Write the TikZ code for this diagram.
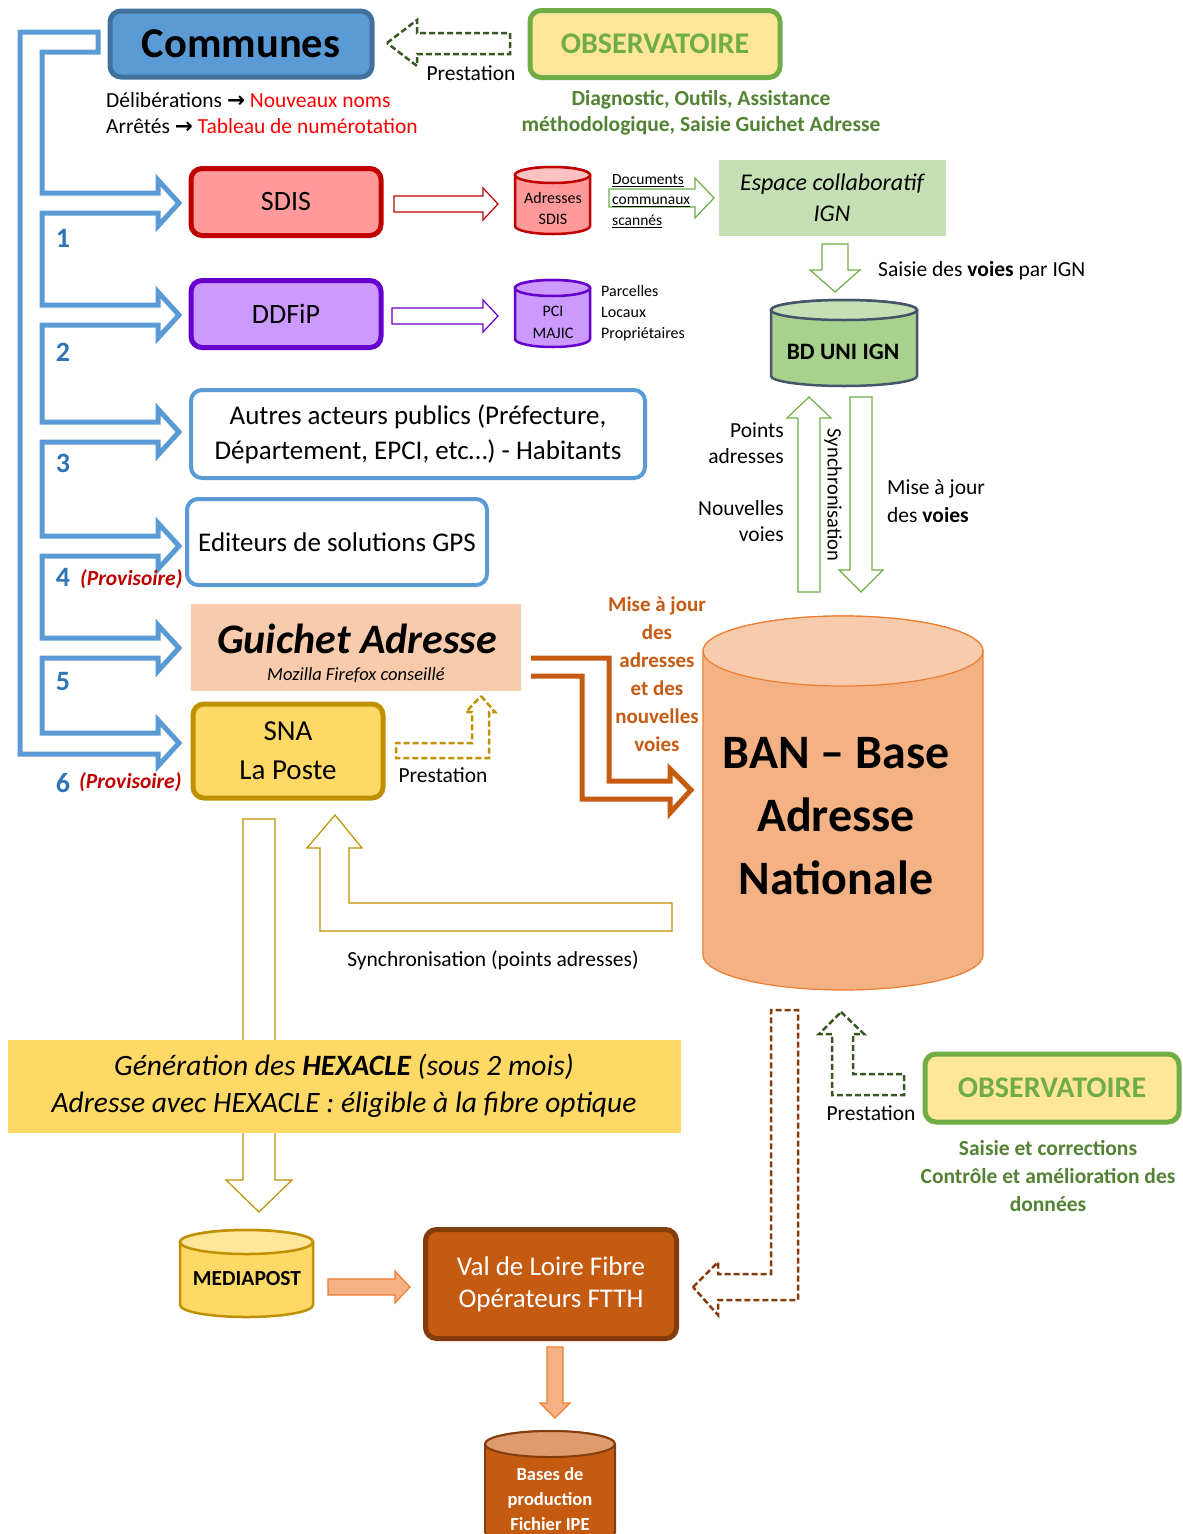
\documentclass[tikz,border=0pt]{standalone}
\usepackage{fontspec}
\setmainfont{Carlito}
\newfontfamily\arrowfont{DejaVu Sans}
\usetikzlibrary{calc}

\definecolor{communesfill}{HTML}{5B9BD5}
\definecolor{communesline}{HTML}{41719C}
\definecolor{forkblue}{HTML}{5B9BD5}
\definecolor{numblue}{HTML}{2E75B6}
\definecolor{provred}{HTML}{C00000}
\definecolor{obsfill}{HTML}{FFE699}
\definecolor{obsgreen}{HTML}{70AD47}
\definecolor{textgreen}{HTML}{548235}
\definecolor{prestgreen}{HTML}{385723}
\definecolor{sdisfill}{HTML}{FF999A}
\definecolor{sdisred}{HTML}{C00000}
\definecolor{ddfipfill}{HTML}{CC99FF}
\definecolor{ddfipline}{HTML}{6600CC}
\definecolor{ignfill}{HTML}{C5E0B4}
\definecolor{bdfill}{HTML}{A9D18E}
\definecolor{bdline}{HTML}{44546A}
\definecolor{guichetfill}{HTML}{F8CBAD}
\definecolor{snafill}{HTML}{FFD966}
\definecolor{snaline}{HTML}{BF9000}
\definecolor{fibre}{HTML}{C55A11}
\definecolor{fibreline}{HTML}{843C0C}
\definecolor{banfill}{HTML}{F4B183}
\definecolor{bantop}{HTML}{F8CBAD}
\definecolor{banline}{HTML}{ED7D31}
\definecolor{basestop}{HTML}{DE9B6E}

\newcommand{\fsz}[2]{\fontsize{#1}{#2}\selectfont}
\newcommand{\toarrow}{{\arrowfont\bfseries →}}
% style, tail x, tip x, y, shaft half, head half, head length
\newcommand{\blockarrowh}[7]{%
  \draw[#1] (#2,{#4-#5}) -- ({#3-(#7)},{#4-#5}) -- ({#3-(#7)},{#4-#6}) -- (#3,#4)
    -- ({#3-(#7)},{#4+#6}) -- ({#3-(#7)},{#4+#5}) -- (#2,{#4+#5}) -- cycle;}
% style, x, tail y, tip y, shaft half, head half, head length
\newcommand{\blockarrowv}[7]{%
  \draw[#1] ({#2-#5},#3) -- ({#2-#5},{#4-(#7)}) -- ({#2-#6},{#4-(#7)}) -- (#2,#4)
    -- ({#2+#6},{#4-(#7)}) -- ({#2+#5},{#4-(#7)}) -- ({#2+#5},#3) -- cycle;}
% line style, body fill, top fill, x1, y1, x2, y2, ry
\newcommand{\dbcyl}[8]{%
  \path[#1,fill=#2] (#4,{#7-#8}) -- (#4,{#5+#8})
    arc[start angle=180,end angle=360,x radius={(#6-#4)/2},y radius=#8]
    -- (#6,{#7-#8})
    arc[start angle=0,end angle=180,x radius={(#6-#4)/2},y radius=#8] -- cycle;
  \path[#1,fill=#3] ({(#4+#6)/2},{#5+#8}) ellipse[x radius={(#6-#4)/2},y radius=#8];}

\begin{document}
\begin{tikzpicture}[x=1pt,y=-1pt,
    every node/.style={inner sep=0pt,align=center},
    rbox/.style={rounded corners=11,line width=5},
    obsbox/.style={rbox,draw=obsgreen,fill=obsfill,minimum width=250,minimum height=67,
      text=obsgreen,font=\fsz{30}{34}\bfseries},
    actorbox/.style={rbox,draw=forkblue,line width=4,fill=white,font=\fsz{27}{35}},
    lbl/.style={font=\fsz{21.5}{26}},
    num/.style={text=numblue,font=\fsz{28}{30}\bfseries},
    prov/.style={text=provred,font=\fsz{21.5}{24}\bfseries\itshape,anchor=west},
    prest/.style={draw=prestgreen,line width=2.5,dash pattern=on 6pt off 3pt},
    thinarrow/.style={line width=1.2,fill=white}]

  \path[use as bounding box,fill=white] (0,0) rectangle (1183,1534);

  % fork from Communes
  \draw[forkblue,line width=5] (98,52) -- (42,52)
    \foreach \c in {203,315,432,546,648} {
      -- (42,{\c-10}) -- (158,{\c-10}) -- (158,{\c-23}) -- (179,\c)
      -- (158,{\c+23}) -- (158,{\c+10}) -- (42,{\c+10}) }
    -- (42,733) -- (158,733) -- (158,720) -- (179,743) -- (158,766) -- (158,754)
    -- (20,754) -- (20,32) -- (98,32) -- cycle;

  \node[rbox,draw=communesline,fill=communesfill,minimum width=262,minimum height=66,
    font=\fsz{42.5}{46}\bfseries] (communes) at (241,44) {Communes};
  \node[obsbox] (obstop) at (655,44) {OBSERVATOIRE};
  \draw[prest] (387,43) -- (417,20) -- (417,33) -- (510,33) -- (510,54) -- (417,54)
    -- (417,66) -- cycle;
  \node[lbl] (presttop) at (471,73) {Prestation};

  \node[lbl,anchor=west] (delib) at (106,100)
    {Délibérations \toarrow{} \textcolor{red}{Nouveaux noms}};
  \node[lbl,anchor=west] (arretes) at (106,126)
    {Arrêtés \toarrow{} \textcolor{red}{Tableau de numérotation}};
  \node[lbl,text=textgreen,font=\fsz{21.5}{26}\bfseries] (diag) at (701,113)
    {Diagnostic, Outils, Assistance\\méthodologique, Saisie Guichet Adresse};

  \node[rbox,draw=sdisred,fill=sdisfill,minimum width=190,minimum height=67,
    font=\fsz{28}{30}] (sdis) at (286,202) {SDIS};
  \node[rbox,draw=ddfipline,fill=ddfipfill,minimum width=190,minimum height=67,
    font=\fsz{28}{30}] (ddfip) at (286,314) {DDFiP};
  \node[actorbox,minimum width=454,minimum height=88] (autres) at (418,434)
    {Autres acteurs publics (Préfecture,\\Département, EPCI, etc…) - Habitants};
  \node[actorbox,minimum width=300,minimum height=86] (gps) at (337,542)
    {Editeurs de solutions GPS};
  \node[fill=guichetfill,minimum width=330,minimum height=87] (guichet) at (356,647) {};
  \node[font=\fsz{42}{44}\bfseries\itshape] (guichettitle) at (357,639) {Guichet Adresse};
  \node[font=\fsz{18.5}{20}\itshape] (guichetsub) at (356,675) {Mozilla Firefox conseillé};
  \node[rbox,draw=snaline,fill=snafill,minimum width=190,minimum height=94,
    font=\fsz{29}{39}] (sna) at (288,751) {SNA\\La Poste};

  \node[num] (n1) at (63,238) {1};
  \node[num] (n2) at (63,352) {2};
  \node[num] (n3) at (63,463) {3};
  \node[num] (n4) at (63,577) {4};
  \node[prov] (p4) at (80,579) {(Provisoire)};
  \node[num] (n5) at (63,682) {5};
  \node[num] (n6) at (63,783) {6};
  \node[prov] (p6) at (79,782) {(Provisoire)};

  \blockarrowh{sdisred,thinarrow}{394}{498}{204}{8}{16}{15}
  \blockarrowh{ddfipline,thinarrow}{392}{498}{316}{8}{16}{15}
  \dbcyl{draw=sdisred,line width=2.5}{sdisfill}{sdisfill!60}{515}{167}{590}{234}{8}
  \node[font=\fsz{16}{21}] (adrsdis) at (553,208) {Adresses\\SDIS};
  \dbcyl{draw=ddfipline,line width=2.5}{ddfipfill}{ddfipfill}{515}{280}{590}{347}{8}
  \node[font=\fsz{16}{22}] (pci) at (553,322) {PCI\\MAJIC};
  \node[font=\fsz{16}{21},anchor=west,align=left] (parcelles) at (601,313)
    {Parcelles\\Locaux\\Propriétaires};

  \blockarrowh{obsgreen,thinarrow}{609}{714}{198}{9}{20}{19}
  \node[font=\fsz{15.5}{20.5},anchor=west,align=left] (docs) at (612,201)
    {\underline{Documents}\\\underline{communaux}\\\underline{scannés}};
  \node[fill=ignfill,minimum width=227,minimum height=76,font=\fsz{24}{31}\itshape]
    (espace) at (832,198) {Espace collaboratif\\IGN};
  \blockarrowv{obsgreen,thinarrow}{835}{244}{292}{13}{25}{22}
  \node[lbl,anchor=west] (saisievoies) at (878,271) {Saisie des \textbf{voies} par IGN};
  \dbcyl{draw=bdline,line width=2.5}{bdfill}{ignfill}{771}{300}{917}{386}{10}
  \node[font=\fsz{23.5}{26}\bfseries] (bduni) at (843,352) {BD UNI IGN};

  \blockarrowv{obsgreen,thinarrow}{809}{592}{397}{11}{22}{-21}
  \blockarrowv{obsgreen,thinarrow}{861}{397}{592}{11}{22}{22}
  \node[font=\fsz{20.5}{24},rotate=-90] (sync) at (833,495) {Synchronisation};
  \node[lbl,anchor=east,align=right] (points) at (784,443) {Points\\adresses};
  \node[lbl,anchor=east,align=right] (nouvelles) at (784,521) {Nouvelles\\voies};
  \node[font=\fsz{21.5}{28},anchor=west,align=left] (majvoies) at (887,501)
    {Mise à jour\\des \textbf{voies}};

  \draw[fibre,line width=5] (531,658) -- (609,658) -- (609,781) -- (670,781) -- (670,769)
    -- (691,790) -- (670,813) -- (670,799) -- (582,799) -- (582,676) -- (531,676);
  \node[text=fibre,font=\fsz{21}{28}\bfseries] (majadr) at (657,674)
    {Mise à jour\\des\\adresses\\et des\\nouvelles\\voies};

  \dbcyl{draw=banline,line width=1.2}{banfill}{bantop}{703}{616}{983}{990}{35}
  \node[font=\fsz{48}{63}\bfseries] (ban) at (836,816) {BAN – Base\\Adresse\\Nationale};

  \draw[snaline,line width=2.5,dash pattern=on 6pt off 3pt] (481,696) -- (495,712)
    -- (489,712) -- (489,758) -- (396,758) -- (396,743) -- (472,743) -- (472,712)
    -- (466,712) -- cycle;
  \node[lbl] (prestsna) at (443,775) {Prestation};

  \draw[snaline,thinarrow] (335,815) -- (362,848) -- (349,848) -- (349,903) -- (672,903)
    -- (672,931) -- (320,931) -- (320,848) -- (307,848) -- cycle;
  \node[lbl] (syncpts) at (493,960) {Synchronisation (points adresses)};

  \blockarrowv{snaline,thinarrow}{259}{819}{1212}{16}{33}{32}
  \node[fill=snafill,minimum width=673,minimum height=93,font=\fsz{29.5}{37}\itshape]
    (hexacle) at (344,1086)
    {Génération des \textbf{HEXACLE} (sous 2 mois)\\Adresse avec HEXACLE : éligible à la fibre optique};

  \dbcyl{draw=snaline,line width=2.5}{snafill}{obsfill}{180}{1230}{313}{1317}{12}
  \node[font=\fsz{21.5}{24}\bfseries] (mediapost) at (247,1279) {MEDIAPOST};
  \blockarrowh{banline,line width=1.2,fill=banfill}{328}{410}{1287}{8}{16}{15}
  \node[rbox,draw=fibreline,fill=fibre,minimum width=251,minimum height=109,text=white,
    font=\fsz{27}{32}] (valdeloire) at (551,1284) {Val de Loire Fibre\\Opérateurs FTTH};
  \blockarrowv{banline,line width=1.2,fill=banfill}{555}{1347}{1418}{8}{15}{15}
  \dbcyl{draw=fibreline,line width=2}{fibre}{basestop}{485}{1431}{615}{1545}{13}
  \node[text=white,font=\fsz{18.5}{25}\bfseries] (bases) at (550,1499)
    {Bases de\\production\\Fichier IPE};

  \draw[fibreline,line width=2.5,dash pattern=on 6pt off 3pt] (693,1287) -- (718,1262)
    -- (718,1274) -- (771,1274) -- (771,1010) -- (798,1010) -- (798,1300) -- (718,1300)
    -- (718,1315) -- cycle;
  \draw[prest] (841,1012) -- (864,1034) -- (853,1034) -- (853,1074) -- (904,1074)
    -- (904,1095) -- (832,1095) -- (832,1034) -- (819,1034) -- cycle;
  \node[lbl] (prestbas) at (871,1113) {Prestation};
  \node[obsbox,minimum width=254,minimum height=68] (obsbas) at (1052,1088) {OBSERVATOIRE};
  \node[text=textgreen,font=\fsz{21.5}{28}\bfseries] (saisiecorr) at (1048,1176)
    {Saisie et corrections\\Contrôle et amélioration des\\données};
\end{tikzpicture}
\end{document}
